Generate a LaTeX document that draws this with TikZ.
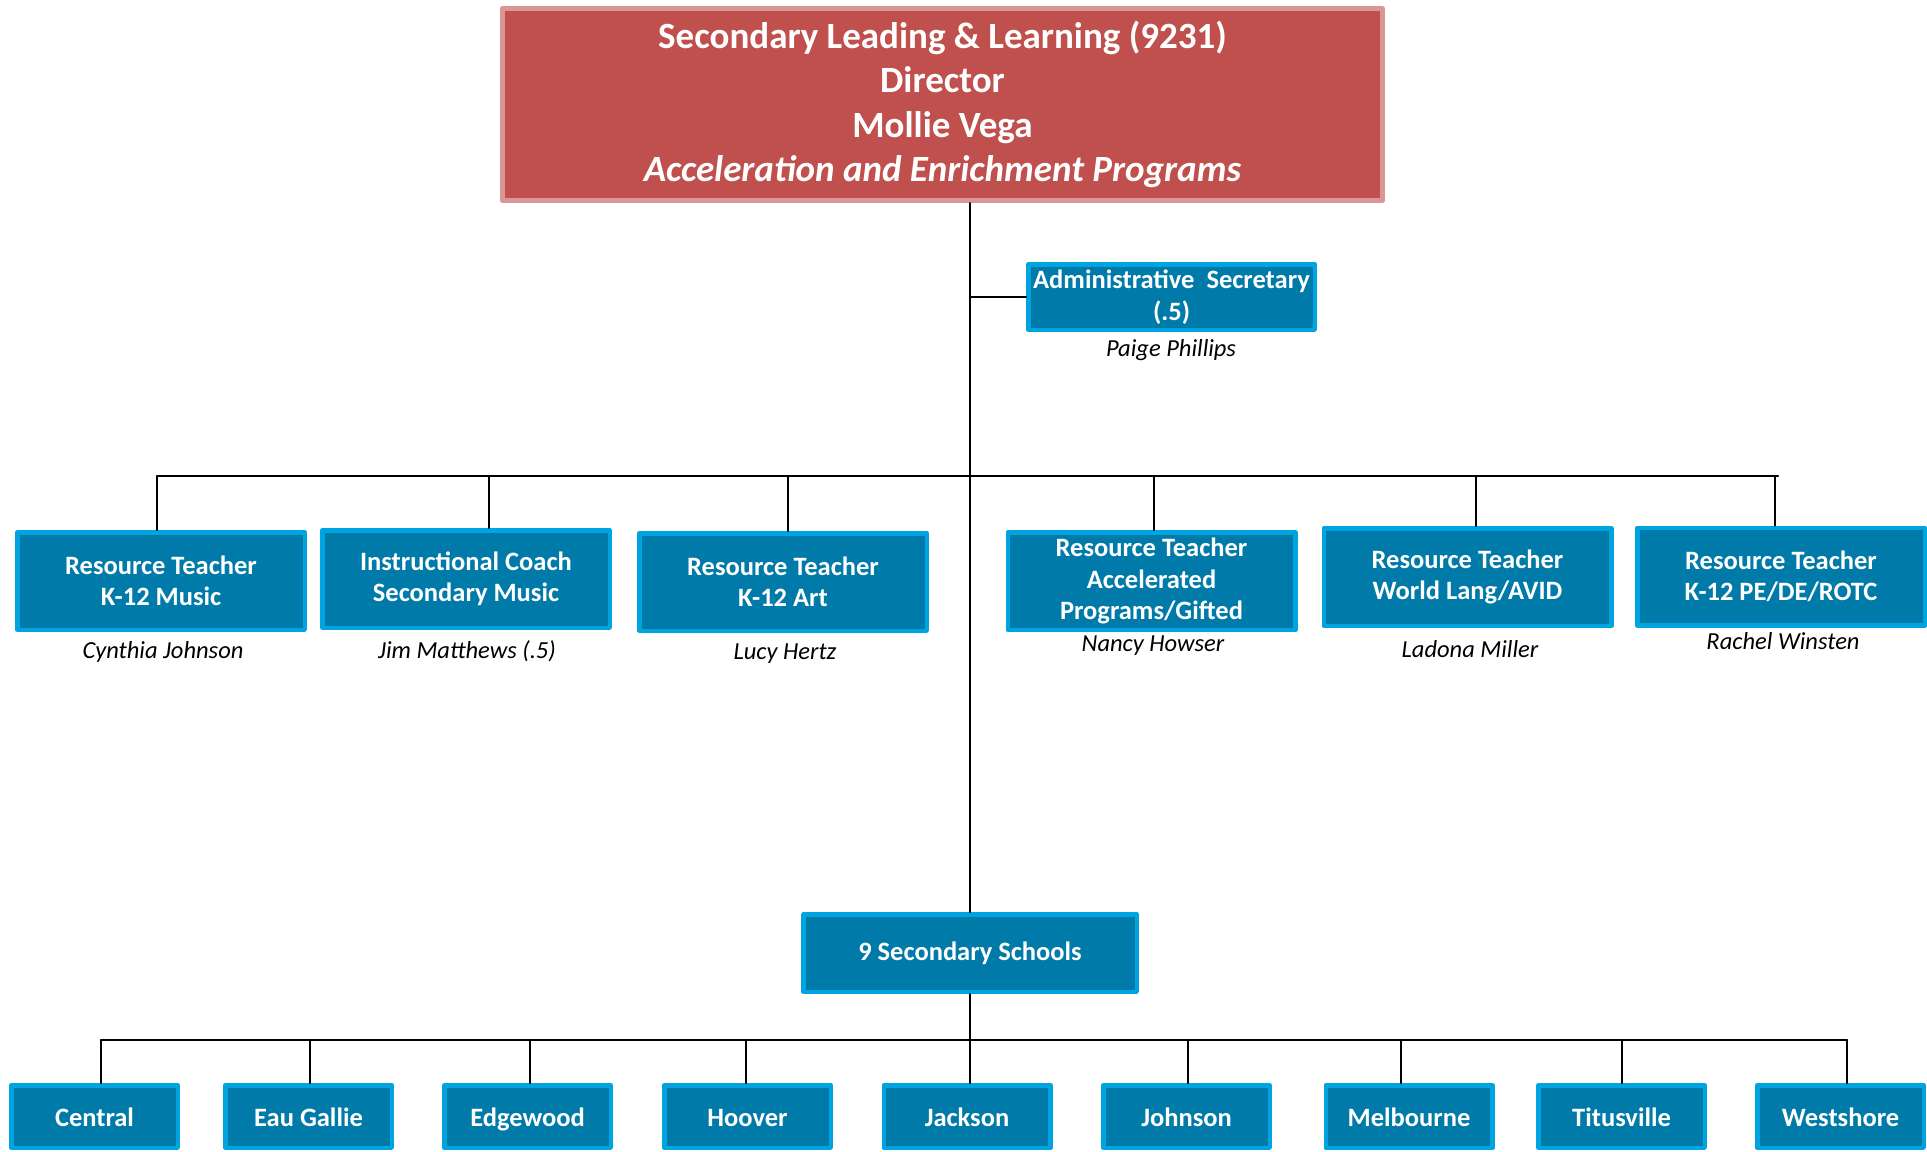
\documentclass[tikz,border=0pt]{standalone}
\usepackage{fontspec}
\setmainfont{Carlito}
\definecolor{boxblue}{RGB}{0,122,168}
\definecolor{edgeblue}{RGB}{0,164,224}
\definecolor{headred}{RGB}{192,80,77}
\definecolor{edgered}{RGB}{217,150,148}
\tikzset{
  bluebox/.style={draw=edgeblue,fill=boxblue,line width=4.5pt,text=white,align=center,inner sep=0pt,
    font=\bfseries\fontsize{26.5}{31.5}\selectfont},
  headbox/.style={draw=edgered,fill=headred,line width=5pt,text=white,align=center,inner sep=0pt,
    font=\bfseries\fontsize{37}{44.5}\selectfont,minimum width=880pt,minimum height=192pt},
  rolebox/.style={bluebox,minimum width=287.5pt,minimum height=97.5pt},
  school/.style={bluebox,minimum width=166.5pt,minimum height=62.5pt,text height=19pt,text depth=0pt},
  who/.style={font=\itshape\fontsize{24.5}{28}\selectfont,inner sep=0pt},
  link/.style={line width=2pt,black}
}
\begin{document}
\begin{tikzpicture}[x=1pt,y=-1pt,line cap=round,line join=round]
        \useasboundingbox (0,0) rectangle (1927,1151);
        % director
        \node[headbox] (dir) at (942.5,104.5) {Secondary Leading \& Learning (9231)\\Director\\Mollie Vega\\\textit{Acceleration and Enrichment Programs}};
        \node[bluebox,minimum width=286.5pt,minimum height=65.5pt] (sec) at (1171.5,297) {Administrative\ \ Secretary\\(.5)};
        \node[who] (secname) at (1171,350) {Paige Phillips};
        % resource teachers
        \node[rolebox] (rt1) at (161,581) {Resource Teacher\\K-12 Music};
        \node[rolebox] (rt2) at (466,579) {Instructional Coach\\Secondary Music};
        \node[rolebox] (rt3) at (783,582) {Resource Teacher\\K-12 Art};
        \node[rolebox] (rt4) at (1151.5,581) {Resource Teacher\\Accelerated\\Programs/Gifted};
        \node[rolebox] (rt5) at (1467.5,577) {Resource Teacher\\World Lang/AVID};
        \node[rolebox] (rt6) at (1781,576.5) {Resource Teacher\\K-12 PE/DE/ROTC};
        \node[who] (rtname1) at (163,652) {Cynthia Johnson};
        \node[who] (rtname2) at (467,651) {Jim Matthews (.5)};
        \node[who] (rtname3) at (785,654) {Lucy Hertz};
        \node[who] (rtname4) at (1153,646) {Nancy Howser};
        \node[who] (rtname5) at (1470,649) {Ladona Miller};
        \node[who] (rtname6) at (1783,641) {Rachel Winsten};
        % schools
        \node[bluebox,minimum width=333.5pt,minimum height=77.5pt] (ss) at (970,953) {9 Secondary Schools};
        \foreach \nm/\x [count=\i] in {Central/94.5,Eau Gallie/308.5,Edgewood/527.5,Hoover/747.5,Jackson/967,Johnson/1186.5,Melbourne/1409,Titusville/1621.5,Westshore/1840.5}
        \node[school] (sc\i) at (\x,1116.5) {\nm};
        % lines
        \coordinate (busA) at (157,476);
        \coordinate (busB) at (1778,476);
        \coordinate (busC) at (101,1040);
        \coordinate (busD) at (1847,1040);
        \draw[link] (ss.north |- dir.south) -- (ss.north);
        \draw[link] (sec.west -| ss.north) -- (sec.west);
        \draw[link] (busA) -- (busB);
        \foreach \i/\dx in {1/-4,2/23,3/5,4/2,5/8,6/-6}
        \draw[link] ([xshift=\dx pt]rt\i.north) -- ([xshift=\dx pt]rt\i.north |- busA);
        \draw[link] (ss.south) -- (ss.south |- busC);
        \draw[link] (busC) -- (busD);
        \foreach \i/\dx in {1/6.5,2/1.5,3/2.5,4/-1.5,5/3,6/1.5,7/-8,8/0.5,9/6.5}
        \draw[link] ([xshift=\dx pt]sc\i.north) -- ([xshift=\dx pt]sc\i.north |- busC);
\end{tikzpicture}
\end{document}
